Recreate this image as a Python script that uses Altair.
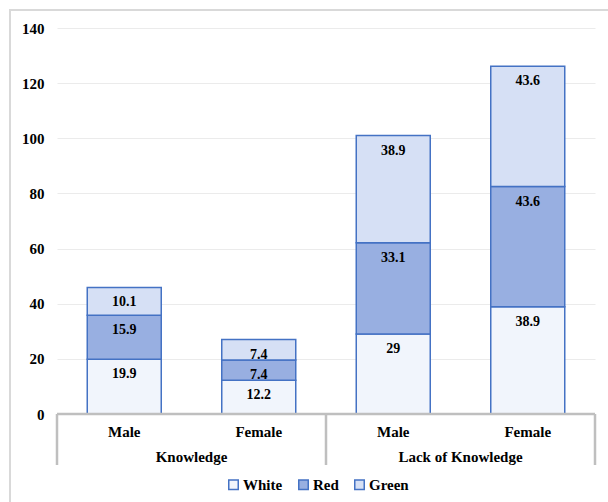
import altair as alt
import pandas as pd

groups = ["Knowledge", "Knowledge", "Lack of Knowledge", "Lack of Knowledge"]
sexes = ["Male", "Female", "Male", "Female"]
series = ["White", "Red", "Green"]
white = [19.9, 12.2, 29, 38.9]
red = [15.9, 7.4, 33.1, 43.6]
green = [10.1, 7.4, 38.9, 43.6]
group_names = ["Knowledge", "Lack of Knowledge"]
y_ticks = [0, 20, 40, 60, 80, 100, 120, 140]

vals = {"White": white, "Red": red, "Green": green}
rows = []
for i, (g, s) in enumerate(zip(groups, sexes)):
    for k, name in enumerate(series):
        rows.append({"pos": i + 0.5, "group": g, "sex": s, "series": name,
                     "order": k, "value": vals[name][i]})
df = pd.DataFrame(rows)
cat_df = pd.DataFrame({"pos": [i + 0.5 for i in range(len(sexes))], "sex": sexes})
grp_df = pd.DataFrame({"pos": [1.0, 3.0], "group": group_names})
sep_df = pd.DataFrame({"pos": [0.0, 2.0, 4.0]})

FONT = "Liberation Serif"
BLUE = "#4472c4"
GRAY = "#bfbfbf"

xscale = alt.Scale(domain=[0, 4], nice=False, zero=False, padding=0)
yscale = alt.Scale(domain=[0, 140], nice=False)

frame = alt.Chart(pd.DataFrame({"a": [0]})).mark_rect(
    fill=None, stroke="#d9d9d9", strokeWidth=2
).encode(x=alt.value(-47), x2=alt.value(600), y=alt.value(-18), y2=alt.value(520))

bars = alt.Chart(df).mark_bar(size=74, stroke=BLUE, strokeWidth=1.5).encode(
    x=alt.X("pos:Q", scale=xscale, axis=None),
    y=alt.Y("value:Q", stack="zero", scale=yscale,
            axis=alt.Axis(values=y_ticks, domain=False, ticks=False, title=None,
                          labelFont=FONT, labelFontWeight="bold", labelFontSize=15,
                          labelColor="#000000", labelPadding=13,
                          gridColor="#ebebeb", gridWidth=1.2)),
    fill=alt.Fill("series:N",
                  scale=alt.Scale(domain=series, range=["#f1f5fc", "#98afe1", "#d6e0f5"]),
                  legend=alt.Legend(title=None, orient="none", legendX=169, legendY=449,
                                    direction="horizontal", symbolType="square",
                                    symbolSize=90, symbolStrokeColor=BLUE,
                                    symbolStrokeWidth=1.5, labelFont=FONT,
                                    labelFontWeight="bold", labelFontSize=15,
                                    labelColor="#000000", columnPadding=12,
                                    labelOffset=2)),
    order=alt.Order("order:Q"),
)

labels = alt.Chart(df).transform_window(
    cum="sum(value)", groupby=["pos"], sort=[alt.SortField("order")]
).mark_text(font=FONT, fontWeight="bold", fontSize=14, color="#000000",
            baseline="middle", dy=15).encode(
    x=alt.X("pos:Q", scale=xscale),
    y=alt.Y("cum:Q", scale=yscale),
    text=alt.Text("value:Q"),
)

baseline = alt.Chart(pd.DataFrame({"a": [0]})).mark_rule(color=GRAY, strokeWidth=2.5).encode(
    x=alt.datum(0, scale=xscale), x2=alt.datum(4), y=alt.datum(0, scale=yscale)
)

seps = alt.Chart(sep_df).mark_rule(color=GRAY, strokeWidth=2.5).encode(
    x=alt.X("pos:Q", scale=xscale), y=alt.value(386), y2=alt.value(437)
)

cat_text = alt.Chart(cat_df).mark_text(font=FONT, fontWeight="bold", fontSize=15,
                                       color="#000000", baseline="middle").encode(
    x=alt.X("pos:Q", scale=xscale), y=alt.value(404), text="sex:N"
)

grp_text = alt.Chart(grp_df).mark_text(font=FONT, fontWeight="bold", fontSize=15,
                                       color="#000000", baseline="middle").encode(
    x=alt.X("pos:Q", scale=xscale), y=alt.value(429), text="group:N"
)

chart = alt.layer(frame, bars, labels, baseline, seps, cat_text, grp_text).properties(
    width=538, height=386,
    autosize=alt.AutoSizeParams(type="none"),
    padding={"left": 57, "top": 28, "right": 13, "bottom": 88},
    background="#ffffff",
).configure_view(stroke=None)

chart.save("out.html", embed_options={"renderer": "svg", "actions": False})
